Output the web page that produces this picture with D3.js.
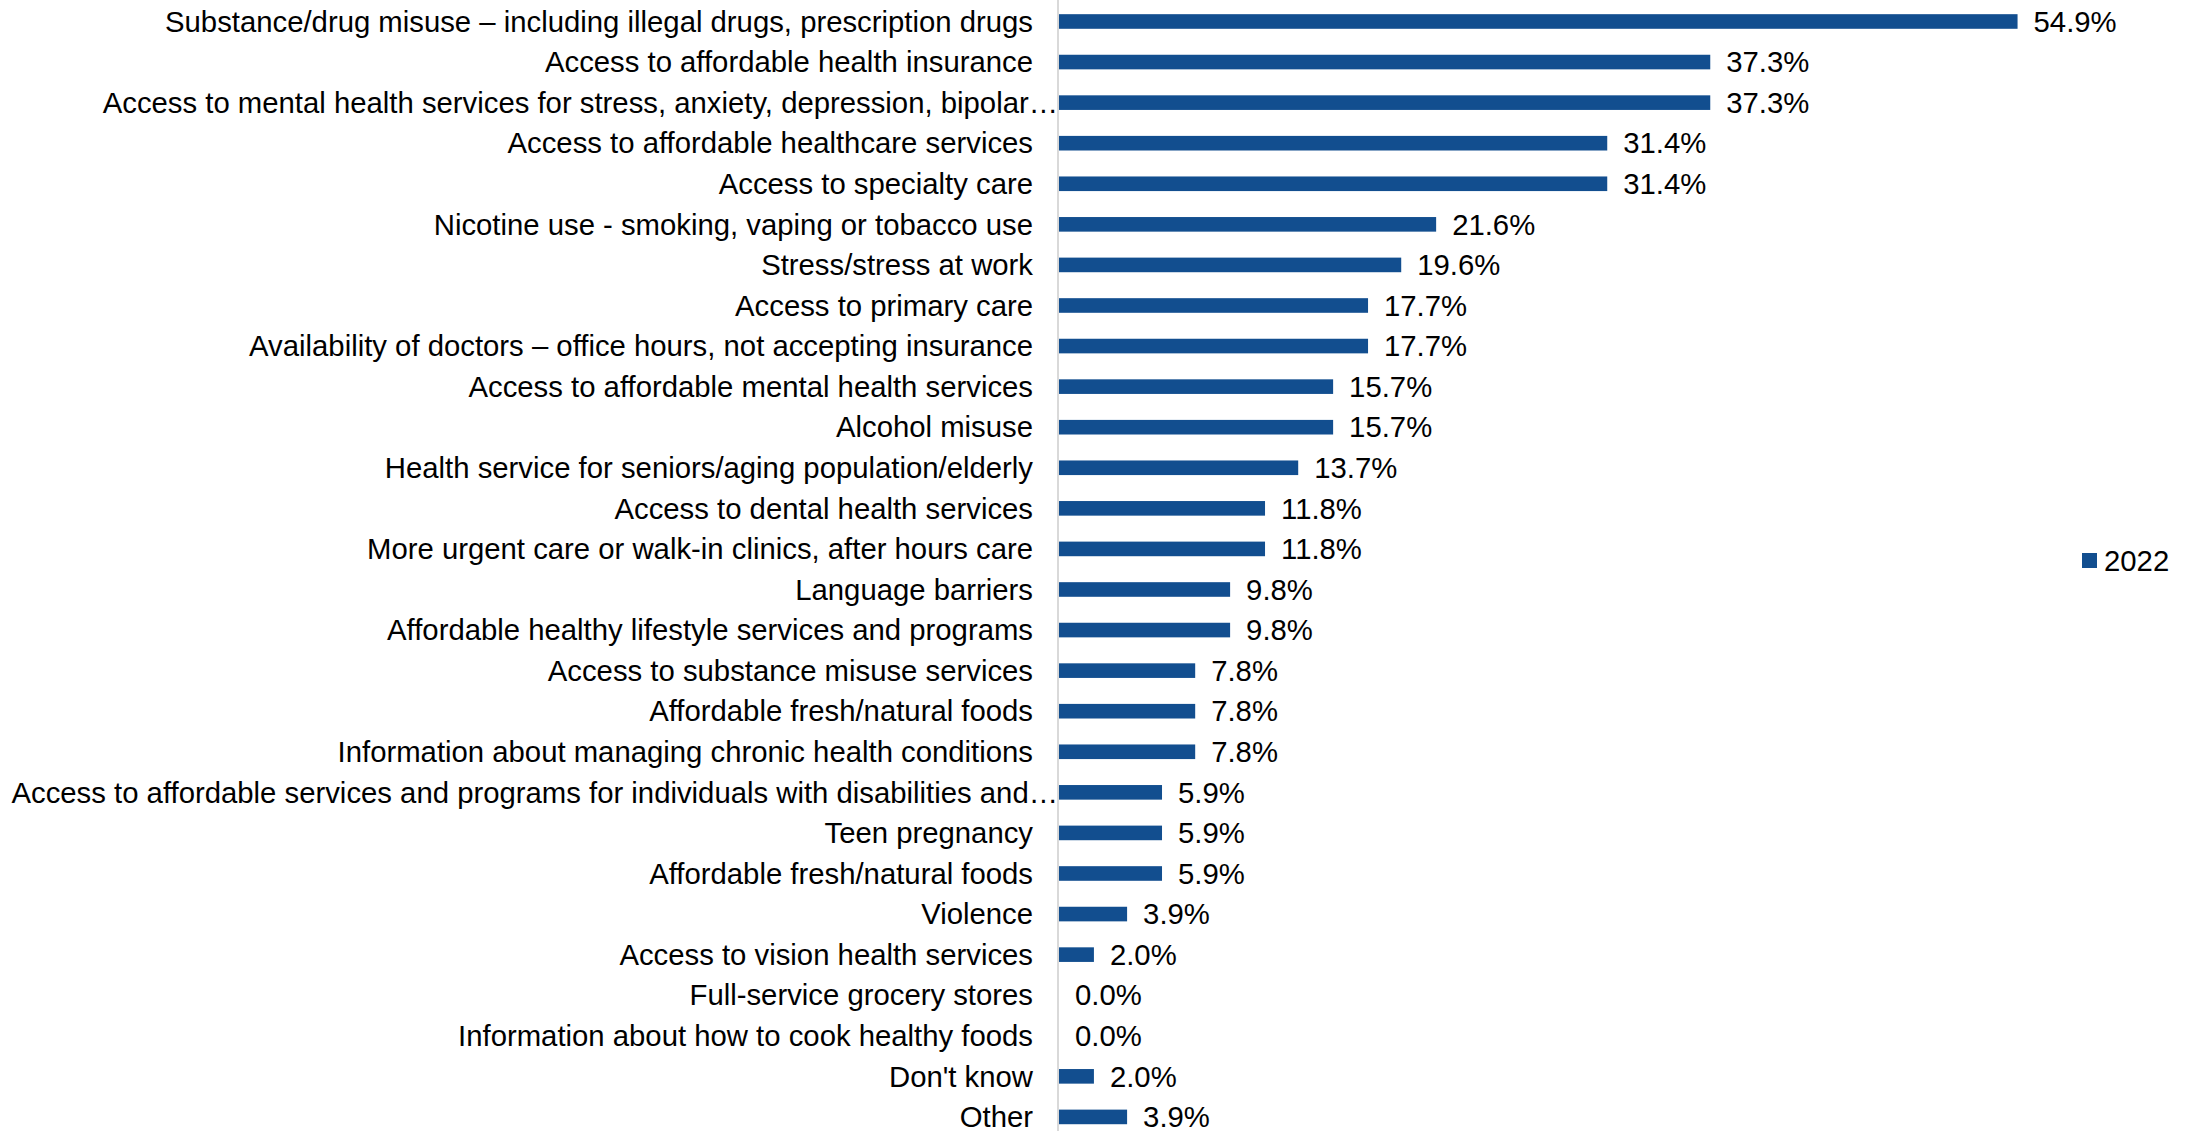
<!DOCTYPE html>
<html><head><meta charset="utf-8">
<script src="https://cdn.jsdelivr.net/npm/d3@7"></script>
<style>body{margin:0;background:#fff}svg{display:block}</style>
</head><body>
<script>
const categories = [
"Substance/drug misuse – including illegal drugs, prescription drugs",
"Access to affordable health insurance",
"Access to mental health services for stress, anxiety, depression, bipolar…",
"Access to affordable healthcare services",
"Access to specialty care",
"Nicotine use - smoking, vaping or tobacco use",
"Stress/stress at work",
"Access to primary care",
"Availability of doctors – office hours, not accepting insurance",
"Access to affordable mental health services",
"Alcohol misuse",
"Health service for seniors/aging population/elderly",
"Access to dental health services",
"More urgent care or walk-in clinics, after hours care",
"Language barriers",
"Affordable healthy lifestyle services and programs",
"Access to substance misuse services",
"Affordable fresh/natural foods",
"Information about managing chronic health conditions",
"Access to affordable services and programs for individuals with disabilities and…",
"Teen pregnancy",
"Affordable fresh/natural foods",
"Violence",
"Access to vision health services",
"Full-service grocery stores",
"Information about how to cook healthy foods",
"Don't know",
"Other"
];
const values2022 = [54.9,37.3,37.3,31.4,31.4,21.6,19.6,17.7,17.7,15.7,15.7,13.7,11.8,11.8,9.8,9.8,7.8,7.8,7.8,5.9,5.9,5.9,3.9,2.0,0.0,0.0,2.0,3.9];
const seriesName = "2022";

const W = 2193, H = 1131;
const FONT = "'Liberation Sans', Arial, sans-serif";
const FS = 29.3;
const color = "#124E8F";

const svg = d3.select("body").append("svg").attr("width", W).attr("height", H);

const x = d3.scaleLinear().domain([0, 60]).range([1059, 1059 + 60 * 17.46]);
const y = d3.scaleBand().domain(d3.range(categories.length)).range([1.2, 1137.2]).paddingInner(0.64).paddingOuter(0.32);

svg.append("g").selectAll("rect").data(values2022).join("rect")
  .attr("x", x(0))
  .attr("y", (d, i) => y(i))
  .attr("width", d => x(d) - x(0))
  .attr("height", y.bandwidth())
  .attr("fill", color);

// axis line
svg.append("line").attr("x1", 1058).attr("x2", 1058).attr("y1", 0).attr("y2", H)
  .attr("stroke", "#d9d9d9").attr("stroke-width", 2);

// category labels
svg.append("g").selectAll("text").data(categories).join("text")
  .attr("x", d => d.endsWith("…") ? 1058 : 1033)
  .attr("y", (d, i) => y(i) + y.bandwidth() / 2)
  .attr("dy", "0.35em")
  .attr("text-anchor", "end")
  .attr("font-family", FONT).attr("font-size", FS).attr("fill", "#000")
  .text(d => d);

// value labels
svg.append("g").selectAll("text").data(values2022).join("text")
  .attr("x", d => x(d) + 16)
  .attr("y", (d, i) => y(i) + y.bandwidth() / 2)
  .attr("dy", "0.35em")
  .attr("font-family", FONT).attr("font-size", FS).attr("fill", "#000")
  .text(d => d.toFixed(1) + "%");

// legend
const lg = svg.append("g").attr("transform", "translate(2082,553)");
lg.append("rect").attr("width", 15).attr("height", 15).attr("fill", color);
lg.append("text").attr("x", 22).attr("y", 7.5).attr("dy", "0.35em")
  .attr("font-family", FONT).attr("font-size", FS).attr("fill", "#000").text(seriesName);
</script>
</body></html>
